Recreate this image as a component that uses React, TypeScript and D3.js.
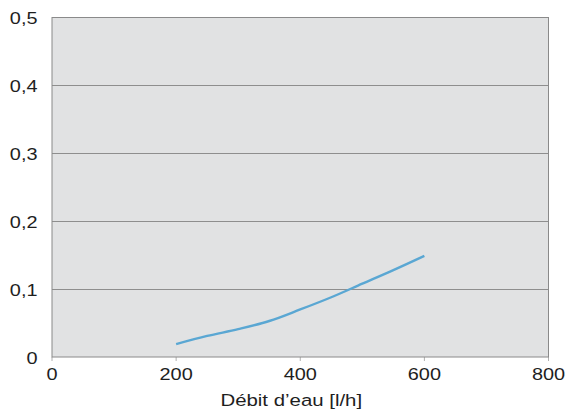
import React from "react";
import * as d3 from "d3";

const flowValues = [200, 250, 300, 350, 400, 450, 500, 550, 600];
const lossValues = [0.019, 0.031, 0.041, 0.053, 0.07, 0.088, 0.108, 0.128, 0.149];
const xTicks = [0, 200, 400, 600, 800];
const yTicks = [0, 0.1, 0.2, 0.3, 0.4, 0.5];
const xTitle = "Débit d’eau [l/h]";

const W = 569;
const H = 417;
const M = { left: 52, right: 20, top: 17.5, bottom: 60 };
const SX = 1.17;
const FS = 17;
const FONT = "'Liberation Sans', Arial, Helvetica, sans-serif";

export default function App() {
  const x = d3.scaleLinear().domain([0, 800]).range([M.left, W - M.right - 0.5]);
  const y = d3.scaleLinear().domain([0, 0.5]).range([H - M.bottom, M.top]);
  const line = d3
    .line<number>()
    .x((_, i) => x(flowValues[i]))
    .y((d) => y(d))
    .curve(d3.curveCatmullRom.alpha(0.5));
  const fmt = (v: number) => (v === 0 ? "0" : v.toFixed(1).replace(".", ","));
  const x0 = x(0), x1 = x(800), y0 = y(0), y1 = y(0.5);
  return (
    <svg width={W} height={H} style={{ position: "absolute", left: 0, top: 0 }}>
      <rect x={x0} y={y1} width={x1 - x0} height={y0 - y1} fill="#e1e2e3" />
      {yTicks.slice(1, -1).map((t) => (
        <line key={t} x1={x0} x2={x1} y1={Math.round(y(t)) + 0.5} y2={Math.round(y(t)) + 0.5} stroke="#8e8e8e" strokeWidth={1} />
      ))}
      {xTicks.map((t) => (
        <line key={t} x1={x(t)} x2={x(t)} y1={y0} y2={y0 + 4} stroke="#b0b0b0" strokeWidth={1} />
      ))}
      <rect x={x0} y={y1} width={x1 - x0} height={y0 - y1} fill="none" stroke="#8a8a8a" strokeWidth={1} />
      <path d={line(lossValues) || ""} fill="none" stroke="#5aa7d3" strokeWidth={2.4} />
      {yTicks.map((t) => (
        <g key={t} transform={`translate(37.5,${y(t) + 6.5}) scale(${SX},1)`}>
          <text textAnchor="end" fontFamily={FONT} fontSize={FS} fill="#1e1e1e">
            {fmt(t)}
          </text>
        </g>
      ))}
      {xTicks.map((t) => (
        <g key={t} transform={`translate(${x(t)},${379.5}) scale(${SX},1)`}>
          <text textAnchor="middle" fontFamily={FONT} fontSize={FS} fill="#1e1e1e">
            {t}
          </text>
        </g>
      ))}
      <g transform={`translate(${(x0 + x1) / 2 - 9},${406}) scale(1.2,1)`}>
        <text textAnchor="middle" fontFamily={FONT} fontSize={FS} fill="#1e1e1e">
          {xTitle}
        </text>
      </g>
    </svg>
  );
}
